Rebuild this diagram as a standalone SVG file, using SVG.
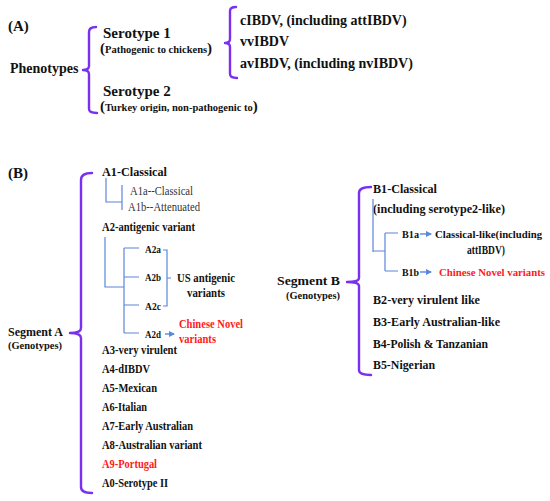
<svg xmlns="http://www.w3.org/2000/svg" width="550" height="501" viewBox="0 0 550 501" font-family="'Liberation Serif', serif" font-weight="bold">
<style>
  text { fill: #111; }
  .lbl { font-size: 13px; }
  .sm { font-size: 10.5px; }
  .nar { font-size: 11px; }
  .thin { font-weight: normal; font-size: 12px; fill: #333; }
  .red { fill: #ff1a1a; }
  .brace { fill: none; stroke: #7a30f0; stroke-width: 2.4; stroke-linecap: round; stroke-linejoin: round; }
  .tree { fill: none; stroke: #5a86dc; stroke-width: 1.2; }
  .arr { fill: none; stroke: #5a86dc; stroke-width: 1.4; marker-end: url(#ah); }
</style>
<defs>
  <marker id="ah" markerWidth="6" markerHeight="6" refX="5" refY="3" orient="auto" markerUnits="userSpaceOnUse">
    <path d="M0,0 L6,3 L0,6 Z" fill="#5a86dc"/>
  </marker>
</defs>
<rect width="550" height="501" fill="#fff"/>

<!-- Panel A -->
<g id="labelA"><text x="8" y="31" font-size="15">(A)</text></g>
<g id="phenotypes"><text x="10" y="73" font-size="14">Phenotypes</text></g>
<g id="serotype1">
  <text x="103" y="38" font-size="15">Serotype 1</text>
  <text x="100" y="53"><tspan font-size="15">(</tspan><tspan font-size="10.5">Pathogenic to chickens</tspan><tspan font-size="15">)</tspan></text>
</g>
<g id="serotype2">
  <text x="103" y="96" font-size="15">Serotype 2</text>
  <text x="100" y="111"><tspan font-size="15">(</tspan><tspan font-size="10.5">Turkey origin, non-pathogenic to</tspan><tspan font-size="15">)</tspan></text>
</g>
<g id="cIBDV"><text x="240" y="25" font-size="14">cIBDV, (including attIBDV)</text></g>
<g id="vvIBDV"><text x="240" y="46" font-size="14">vvIBDV</text></g>
<g id="avIBDV"><text x="240" y="68" font-size="14">avIBDV, (including nvIBDV)</text></g>

<!-- Panel B -->
<g id="labelB"><text x="8" y="178" font-size="15">(B)</text></g>
<g id="segmentA">
  <text class="lbl" x="8" y="336" textLength="55" lengthAdjust="spacingAndGlyphs">Segment A</text>
  <text class="sm" x="8" y="349" textLength="54" lengthAdjust="spacingAndGlyphs">(Genotypes)</text>
</g>
<g id="A1"><text class="lbl" x="102" y="176" textLength="65" lengthAdjust="spacingAndGlyphs">A1-Classical</text></g>
<g id="A1a"><text class="thin" x="130" y="195" textLength="63" lengthAdjust="spacingAndGlyphs">A1a--Classical</text></g>
<g id="A1b"><text class="thin" x="128" y="211" textLength="72" lengthAdjust="spacingAndGlyphs">A1b--Attenuated</text></g>
<g id="A2"><text class="lbl" x="102" y="231" textLength="93" lengthAdjust="spacingAndGlyphs">A2-antigenic variant</text></g>
<g id="A2a"><text class="sm" x="145" y="253" textLength="16" lengthAdjust="spacingAndGlyphs">A2a</text></g>
<g id="A2b"><text class="sm" x="145" y="281" textLength="16" lengthAdjust="spacingAndGlyphs">A2b</text></g>
<g id="A2c"><text class="sm" x="145" y="310" textLength="16" lengthAdjust="spacingAndGlyphs">A2c</text></g>
<g id="A2d"><text class="sm" x="145" y="338" textLength="16" lengthAdjust="spacingAndGlyphs">A2d</text></g>
<g id="USvariants">
  <text class="lbl" x="177" y="282" textLength="58" lengthAdjust="spacingAndGlyphs">US antigenic</text>
  <text class="lbl" x="187" y="297" textLength="38" lengthAdjust="spacingAndGlyphs">variants</text>
</g>
<g id="chineseA">
  <text class="lbl red" x="179" y="328" textLength="64" lengthAdjust="spacingAndGlyphs">Chinese Novel</text>
  <text class="lbl red" x="179" y="343" textLength="37" lengthAdjust="spacingAndGlyphs">variants</text>
</g>
<g id="A3"><text class="lbl" x="102" y="354" textLength="75" lengthAdjust="spacingAndGlyphs">A3-very virulent</text></g>
<g id="A4"><text class="lbl" x="102" y="373" textLength="48" lengthAdjust="spacingAndGlyphs">A4-dIBDV</text></g>
<g id="A5"><text class="lbl" x="102" y="392" textLength="55" lengthAdjust="spacingAndGlyphs">A5-Mexican</text></g>
<g id="A6"><text class="lbl" x="102" y="411" textLength="45" lengthAdjust="spacingAndGlyphs">A6-Italian</text></g>
<g id="A7"><text class="lbl" x="102" y="430" textLength="91" lengthAdjust="spacingAndGlyphs">A7-Early Australian</text></g>
<g id="A8"><text class="lbl" x="102" y="449" textLength="100" lengthAdjust="spacingAndGlyphs">A8-Australian variant</text></g>
<g id="A9"><text class="lbl red" x="102" y="468" textLength="55" lengthAdjust="spacingAndGlyphs">A9-Portugal</text></g>
<g id="A0"><text class="lbl" x="102" y="487" textLength="66" lengthAdjust="spacingAndGlyphs">A0-Serotype II</text></g>

<g id="segmentB">
  <text class="lbl" x="277" y="285" textLength="63" lengthAdjust="spacingAndGlyphs">Segment B</text>
  <text class="sm" x="286" y="299" textLength="54" lengthAdjust="spacingAndGlyphs">(Genotypes)</text>
</g>
<g id="B1">
  <text class="lbl" x="373" y="193" textLength="64" lengthAdjust="spacingAndGlyphs">B1-Classical</text>
  <text class="lbl" x="373" y="213" textLength="132" lengthAdjust="spacingAndGlyphs">(including serotype2-like)</text>
</g>
<g id="B1a"><text class="sm" x="402" y="238" textLength="17" lengthAdjust="spacingAndGlyphs">B1a</text></g>
<g id="B1aDesc">
  <text class="nar" x="435" y="238" textLength="107" lengthAdjust="spacingAndGlyphs">Classical-like(including</text>
  <text class="lbl" x="467" y="254" textLength="38" lengthAdjust="spacingAndGlyphs">attIBDV)</text>
</g>
<g id="B1b"><text class="sm" x="402" y="276" textLength="17" lengthAdjust="spacingAndGlyphs">B1b</text></g>
<g id="chineseB"><text class="nar red" x="439" y="276" textLength="106" lengthAdjust="spacingAndGlyphs">Chinese Novel variants</text></g>
<g id="B2"><text class="lbl" x="373" y="304" textLength="107" lengthAdjust="spacingAndGlyphs">B2-very virulent like</text></g>
<g id="B3"><text class="lbl" x="373" y="326" textLength="127" lengthAdjust="spacingAndGlyphs">B3-Early Australian-like</text></g>
<g id="B4"><text class="lbl" x="373" y="348" textLength="115" lengthAdjust="spacingAndGlyphs">B4-Polish &amp; Tanzanian</text></g>
<g id="B5"><text class="lbl" x="373" y="369" textLength="62" lengthAdjust="spacingAndGlyphs">B5-Nigerian</text></g>

<g id="connectors">
  <path class="brace" d="M96,27 Q89,27 89,32 L89,66 Q89,70 83,70 Q89,70 89,74 L89,109 Q89,113 97,113"/>
  <path class="brace" d="M236,7 Q230,7 230,11 L230,39 Q230,43 225,43 Q230,43 230,47 L230,74 Q230,78 237,78"/>
  <path class="brace" d="M92,173 Q81,173 81,180 L81,328 Q81,333 70,333 Q81,333 81,338 L81,487 Q81,493 92,493"/>
  <path class="brace" d="M371,187 Q359,187 359,193 L359,278 Q359,282 347,282 Q359,282 359,286 L359,370 Q359,375 371,375"/>
  <path class="tree" d="M106,178 L106,202 L122,202 M122,185 L122,210"/>
  <path class="tree" d="M105,237 L105,287 L124,287 M124,248 L124,333 M124,248 L139,248 M124,277 L139,277 M124,305 L139,305 M124,333 L139,333"/>
  <path class="tree" d="M163,250 L167,250 L167,306 L163,306 M167,278 L171,278"/>
  <line class="arr" x1="165" y1="334" x2="174" y2="334"/>
  <path class="tree" d="M373,199 L373,252 M373,251 L385,251 M385,233 L385,271 M385,233 L398,233 M385,271 L398,271"/>
  <line class="arr" x1="420" y1="234" x2="431" y2="234"/>
  <line class="arr" x1="420" y1="272" x2="431" y2="272"/>
</g>
</svg>
